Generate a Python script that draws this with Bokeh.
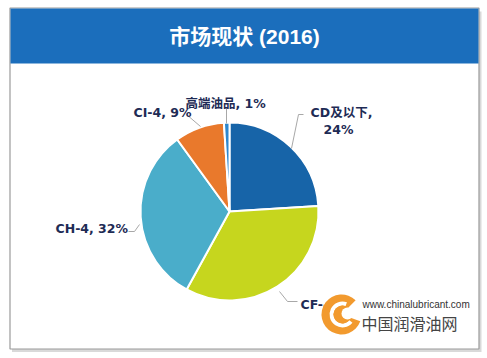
import numpy as np
from bokeh.plotting import figure
from bokeh.models import ColumnDataSource, Range1d
from bokeh.core.properties import value
from bokeh.embed import file_html
from bokeh.resources import INLINE

# ---- data ----
categories = ["CD及以下", "CF-4", "CH-4", "CI-4", "高端油品"]
shares = [24, 34, 32, 9, 1]
colors = ["#1764a8", "#c6d61e", "#4aadca", "#e9792c", "#2d88cf"]
title_text = "市场现状 (2016)"

W, H = 485, 356
OFF = 0


def Y(yp):  # page y -> data y
    return OFF + H - yp


p = figure(width=W, height=H, output_backend="svg", toolbar_location=None,
           x_range=Range1d(OFF, OFF + W), y_range=Range1d(0, H),
           min_border=0, outline_line_color=None)
p.axis.visible = False
p.grid.visible = False
p.background_fill_color = "white"
p.border_fill_color = "white"

# card shadow, card, header bar
p.quad(left=[11.5], right=[481], top=[Y(11)], bottom=[Y(351.5)], fill_color="#cfcfcf",
       line_color=None, fill_alpha=0.8)
p.quad(left=[9.5], right=[478.5], top=[Y(7.5)], bottom=[Y(348.5)], fill_color="white",
       line_color="#9a9a9a", line_width=1.2)
p.quad(left=[10], right=[478], top=[Y(8)], bottom=[Y(63)], fill_color="#1b6ebc",
       line_color=None)
p.text(x=[244], y=[Y(36)], text=[title_text], text_align="center", text_baseline="middle",
       text_color="white", text_font_size="21px", text_font_style="bold",
       text_font=value("Liberation Sans, Noto Sans CJK SC"))

# pie
cx, cy, r = 229, Y(211), 89
fr = np.array(shares, dtype=float) / sum(shares)
cum = np.concatenate([[0], np.cumsum(fr)])
start = np.pi / 2 - 2 * np.pi * cum[:-1]
end = np.pi / 2 - 2 * np.pi * cum[1:]
src = ColumnDataSource(dict(start=start, end=end, color=colors, cat=categories))
p.wedge(x=cx, y=cy, radius=r, start_angle="start", end_angle="end", direction="clock",
        fill_color="color", line_color="white", line_width=2, source=src)

# leader lines (page coords)
leaders = [
    [(303, 114), (298, 114), (291, 148)],
    [(297, 301), (287, 301), (279, 291)],
    [(128, 231), (134, 231), (139, 224)],
    [(186, 114), (200, 126)],
    [(226, 108), (226, 123)],
]
for pts in leaders:
    p.line(x=[q[0] for q in pts], y=[Y(q[1]) for q in pts], line_color="#a8a8a8", line_width=1)

# labels
lab_font = value("DejaVu Sans, Noto Sans CJK SC")
lab_color = "#1e2b55"
labels = [
    (categories[0] + ",", 341, 112, "center"),
    (f"{shares[0]}%", 338, 129, "center"),
    (f"{categories[1]}, {shares[1]}%", 300, 304, "left"),
    (f"{categories[2]}, {shares[2]}%", 55, 228, "left"),
    (f"{categories[3]}, {shares[3]}%", 133, 112, "left"),
    (f"{categories[4]}, {shares[4]}%", 185, 103, "left"),
]
for t, xx, yy, al in labels:
    p.text(x=[xx], y=[Y(yy)], text=[t], text_align=al, text_baseline="middle",
           text_color=lab_color, text_font_size="12.5px", text_font_style="bold",
           text_font=lab_font)

# watermark (white backing, logo, site texts)
p.quad(left=[323], right=[466], top=[Y(292)], bottom=[Y(336)], fill_color="white",
       line_color=None)
lx, ly = 341, Y(314)
p.wedge(x=lx, y=ly, radius=20, start_angle=np.deg2rad(45), end_angle=np.deg2rad(-20),
        direction="anticlock", fill_color="#f29a2e", line_color=None)
p.annular_wedge(x=lx + 1, y=ly, inner_radius=9, outer_radius=13, start_angle=np.deg2rad(70),
                end_angle=np.deg2rad(-40), direction="anticlock", fill_color="white", line_color=None)
p.circle(x=lx + 1, y=ly, radius=9, fill_color="#f29a2e", line_color=None)
p.circle(x=lx + 6, y=ly + 1, radius=6, fill_color="white", line_color=None)
p.text(x=[362], y=[Y(304)], text=["www.chinalubricant.com"], text_align="left",
       text_baseline="middle", text_color="#333333", text_font_size="10px",
       text_font=value("Liberation Sans"))
p.text(x=[361], y=[Y(322)], text=["中国润滑油网"], text_align="left", text_baseline="middle",
       text_color="#444444", text_font_size="16px", text_font=value("Noto Sans CJK SC"))

open("out.html", "w").write(file_html(p, INLINE))
